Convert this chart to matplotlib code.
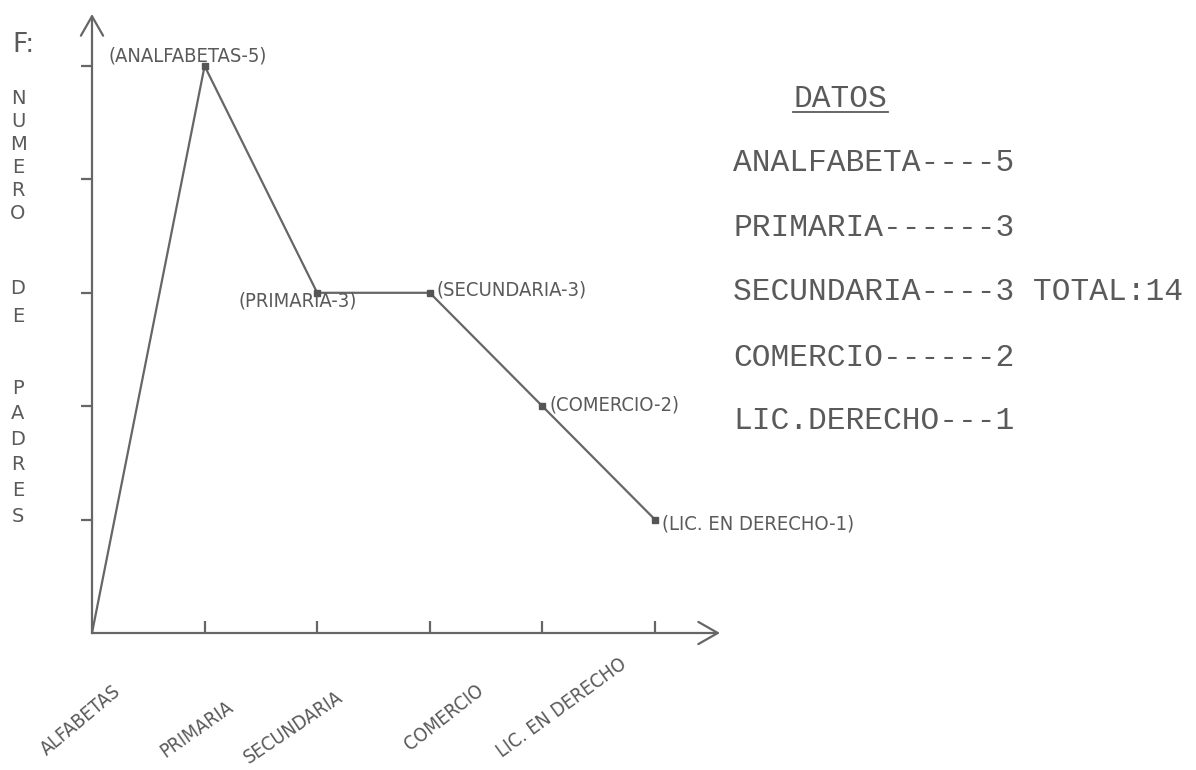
import matplotlib.pyplot as plt

# niveles de estudio (eje x) y numero de padres
niveles = ["ALFABETAS", "PRIMARIA", "SECUNDARIA", "COMERCIO", "LIC. EN DERECHO"]
puntos = ["(ANALFABETAS-5)", "(PRIMARIA-3)", "(SECUNDARIA-3)", "(COMERCIO-2)", "(LIC. EN DERECHO-1)"]
x_vals = [0, 1, 2, 3, 4, 5]
y_vals = [0, 5, 3, 3, 2, 1]

datos_nombres = ["ANALFABETA", "PRIMARIA", "SECUNDARIA", "COMERCIO", "LIC.DERECHO"]
datos_valores = [5, 3, 3, 2, 1]

W, H = 1196, 770
linea = "#666666"
tinta = "#5a5a5a"
mano = {"family": "DejaVu Sans", "color": tinta}


def fx(px):
    return px / W


def fy(py):
    return 1 - py / H


fig = plt.figure(figsize=(W / 100, H / 100), dpi=100)
ax = fig.add_axes([fx(92), fy(633), (720 - 92) / W, (633 - 14) / H])
ax.set_xlim(0, 628 / 112.6)
ax.set_ylim(0, 619 / 113.4)
for s in ax.spines.values():
    s.set_visible(False)

# ejes con flecha
flecha = dict(arrowstyle="->,head_length=0.7,head_width=0.4", lw=1.6,
              color=linea, shrinkA=0, shrinkB=0, mutation_scale=20)
ax.annotate("", xy=(ax.get_xlim()[1], 0), xytext=(0, 0), arrowprops=flecha, annotation_clip=False)
ax.annotate("", xy=(0, ax.get_ylim()[1]), xytext=(0, 0), arrowprops=flecha, annotation_clip=False)

ax.set_xticks(x_vals[1:])
ax.set_yticks(range(1, 6))
ax.set_xticklabels([])
ax.set_yticklabels([])
ax.tick_params(axis="x", direction="in", length=9, width=1.6, color=linea)
ax.tick_params(axis="y", direction="out", length=8, width=1.6, color=linea)

ax.plot(x_vals, y_vals, "-", color=linea, lw=1.6, clip_on=False)
ax.plot(x_vals[1:], y_vals[1:], "s", color="#555555", ms=4, clip_on=False)

# etiquetas de los puntos
off_puntos = [(-12, 7, "center"), (-14, -6, "center"), (5, 2, "left"), (5, 1, "left"), (5, -3, "left")]
for i, txt in enumerate(puntos):
    dx, dy, ha = off_puntos[i]
    ax.annotate(txt, (x_vals[i + 1], y_vals[i + 1]), xytext=(dx, dy), textcoords="offset points",
                ha=ha, va="center", fontsize=14.5, fontstretch="condensed", **mano,
                annotation_clip=False)

# etiquetas del eje x, inclinadas
off_niveles = [(19, -40, 40), (19, -52, 35), (17, -45, 34), (37, -40, 38), (59, -21, 36)]
for i, txt in enumerate(niveles):
    dx, dy, rot = off_niveles[i]
    ax.annotate(txt, (x_vals[i], 0), xytext=(dx, dy), textcoords="offset points",
                ha="right", va="center", rotation=rot, rotation_mode="anchor",
                fontsize=14, fontstretch="condensed", **mano, annotation_clip=False)

# titulo del eje y en letras apiladas
fig.text(fx(12), fy(45), "F:", fontsize=19, ha="left", va="center", **mano)
palabras = ["NUMERO", "DE", "PADRES"]
centros = [156, 302, 452]
espacios = [1.26, 1.6, 1.44]
for pal, cy, ls in zip(palabras, centros, espacios):
    fig.text(fx(18), fy(cy), "\n".join(pal), fontsize=14, ha="center", va="center",
             linespacing=ls, **mano)

# cuadro de datos a la derecha
mono = {"family": "Liberation Mono", "color": tinta, "fontsize": 22.5}
fig.text(fx(840), fy(99), "DATOS", ha="center", va="center", **mono)
fig.add_artist(plt.Line2D([fx(793), fx(888)], [fy(112), fy(112)], color=tinta, lw=1.3))
filas_y = [163, 228, 292, 358, 421]
total = sum(datos_valores)
for i, (nom, val) in enumerate(zip(datos_nombres, datos_valores)):
    fila = nom.ljust(14, "-") + str(val)
    if nom == "SECUNDARIA":
        fila += " TOTAL:" + str(total)
    fig.text(fx(733), fy(filas_y[i]), fila, ha="left", va="center", **mono)

fig.savefig("out.png", dpi=100, facecolor="white")
